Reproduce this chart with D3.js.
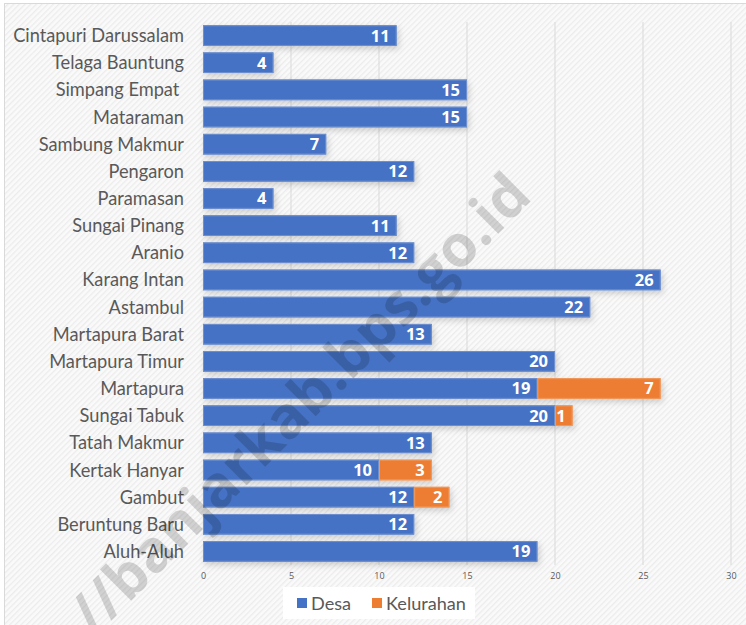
<!DOCTYPE html>
<html><head><meta charset="utf-8">
<script src="https://cdn.jsdelivr.net/npm/d3@7"></script>
<style>html,body{margin:0;padding:0;background:#fff;}svg{display:block;}</style>
</head><body><svg id="c" width="746" height="625"></svg>
<script>
const categories = ["Cintapuri Darussalam","Telaga Bauntung","Simpang Empat ","Mataraman","Sambung Makmur","Pengaron","Paramasan","Sungai Pinang","Aranio","Karang Intan","Astambul","Martapura Barat","Martapura Timur","Martapura","Sungai Tabuk","Tatah Makmur","Kertak Hanyar","Gambut","Beruntung Baru","Aluh-Aluh"];
const desa = [11,4,15,15,7,12,4,11,12,26,22,13,20,19,20,13,10,12,12,19];
const kelurahan = [0,0,0,0,0,0,0,0,0,0,0,0,0,7,1,0,3,2,0,0];
const seriesNames = ["Desa","Kelurahan"];
const xTicks = [0,5,10,15,20,25,30];
const colors = ["#4472C4","#ED7D31"];
const watermark = "//banjarkab.bps.go.id";

const FONT = "Lato, 'Open Sans', sans-serif";
const svg = d3.select("#c");
const defs = svg.append("defs");
const pat = defs.append("pattern").attr("id","hatch").attr("patternUnits","userSpaceOnUse")
  .attr("width",4).attr("height",4).attr("patternTransform","rotate(45)");
pat.append("rect").attr("width",4).attr("height",4).attr("fill","#fafafa");
pat.append("rect").attr("width",1.3).attr("height",4).attr("fill","#ececec");
const flt = defs.append("filter").attr("id","sh").attr("x","-10%").attr("y","-30%").attr("width","130%").attr("height","200%");
flt.append("feDropShadow").attr("dx",2).attr("dy",3).attr("stdDeviation",3).attr("flood-color","#000").attr("flood-opacity",0.18);

svg.append("rect").attr("x",4.5).attr("y",3.5).attr("width",760).attr("height",640)
  .attr("fill","url(#hatch)").attr("stroke","#d9d9d9").attr("stroke-width",1);

const x = d3.scaleLinear().domain([0,30]).range([203,731]);
const y = d3.scaleBand().domain(categories).range([22,565]).paddingInner(0.24).paddingOuter(0.12);

// gridlines
svg.append("g").selectAll("line").data(xTicks.filter(d=>d>0)).join("line")
  .attr("x1",d=>x(d)).attr("x2",d=>x(d)).attr("y1",22).attr("y2",565)
  .attr("stroke","#d9d9d9").attr("stroke-width",1);

// axis
const ax = svg.append("g").attr("transform","translate(0,571)")
  .call(d3.axisBottom(x).tickValues(xTicks).tickSize(0).tickPadding(2));
ax.select(".domain").remove();
ax.selectAll("text").attr("fill","#595959").style("font-family","'Open Sans', sans-serif").style("font-size","9px");

// stacked data
const rows = categories.map((c,i)=>({cat:c, Desa:desa[i], Kelurahan:kelurahan[i]}));
const stack = d3.stack().keys(seriesNames)(rows);

const gBars = svg.append("g");
stack.forEach((s,si)=>{
  const g = gBars.append("g").attr("filter","url(#sh)");
  g.selectAll("rect").data(s.filter(d=>d[1]>d[0])).join("rect")
    .attr("x",d=>x(d[0])).attr("width",d=>x(d[1])-x(d[0]))
    .attr("y",d=>y(d.data.cat)).attr("height",y.bandwidth())
    .attr("fill",colors[si]);
});
stack.forEach((s,si)=>{
  gBars.append("g").selectAll("rect").data(s.filter(d=>d[1]>d[0])).join("rect")
    .attr("x",d=>x(d[0])+0.5).attr("width",d=>x(d[1])-x(d[0])-1)
    .attr("y",d=>y(d.data.cat)+0.5).attr("height",y.bandwidth()-1)
    .attr("fill","none").attr("stroke",si===0?"#6f90cf":"#f09a5c").attr("stroke-width",1);
});
stack.forEach((s,si)=>{
  gBars.append("g").selectAll("text").data(s.filter(d=>d[1]>d[0])).join("text")
    .attr("x",d=>x(d[1])-7).attr("y",d=>y(d.data.cat)+y.bandwidth()/2)
    .attr("dy","0.36em").attr("text-anchor","end")
    .attr("fill","#fff").style("font-weight","bold")
    .style("font-family","'Open Sans', sans-serif").style("font-size","16.5px")
    .text(d=>d[1]-d[0]);
});

// category labels (size fitted so the longest label spans like the reference)
const cl = svg.append("g").selectAll("text").data(categories).join("text")
  .attr("x",184).attr("y",d=>y(d)+y.bandwidth()/2).attr("dy","0.36em")
  .attr("text-anchor","end").attr("fill","#595959")
  .style("white-space","pre")
  .style("font-family",FONT).style("font-size","16px")
  .text(d=>d);
const w0 = cl.filter((d,i)=>i===0).node().getComputedTextLength();
cl.style("font-size",(16*171/w0)+"px");

// legend
const lg = svg.append("g");
lg.append("rect").attr("x",283).attr("y",587).attr("width",192).attr("height",32).attr("fill","#fff");
const lx = [297,372];
const lt = [];
seriesNames.forEach((n,i)=>{
  lg.append("rect").attr("x",lx[i]).attr("y",598).attr("width",10).attr("height",10).attr("fill",colors[i]);
  lt.push(lg.append("text").attr("x",lx[i]+14).attr("y",603).attr("dy","0.36em").attr("fill","#595959")
    .style("font-family",FONT).style("font-size","16px").text(n));
});
const wl = lt[1].node().getComputedTextLength();
lt.forEach(t=>t.style("font-size",(16*80/wl)+"px"));

// watermark
const wm = svg.append("text").attr("transform","translate(94,638) rotate(-45)")
  .attr("fill","#000").attr("fill-opacity",0.16)
  .style("font-family","'Open Sans', sans-serif").style("font-weight","bold").style("font-size","50px")
  .text(watermark);
const ww = wm.node().getComputedTextLength();
wm.style("font-size",(50*622/ww)+"px");
</script></body></html>
